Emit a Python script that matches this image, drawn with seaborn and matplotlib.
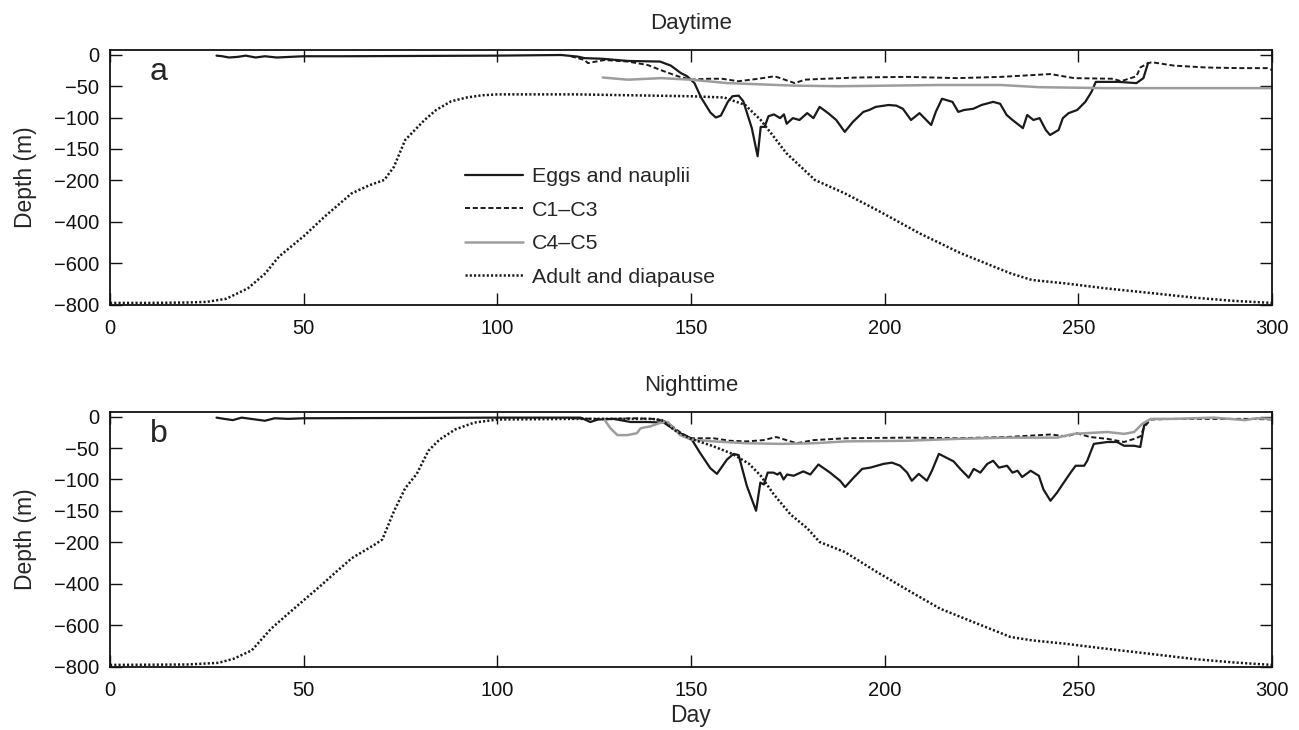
import numpy as np
import pandas as pd
import matplotlib
matplotlib.use("Agg")
import matplotlib.pyplot as plt
import seaborn as sns

# ---------------- data (day, depth in m) ----------------
# Panel a: Daytime
a_eggs_day = [27.5, 29, 30.7, 33, 35, 37.6, 40, 43, 46.5, 50, 60, 80, 100, 116.5, 120.8, 122.5, 127, 133.7, 142,
              144.8, 147.4, 149, 150.9, 152.6, 155, 156.4, 157.7, 159.5, 160.7, 162.3, 163.5, 165.7, 167.2, 168, 169,
              170, 171.4, 173, 174, 174.7, 176.3, 178, 180, 181.6, 183.2, 185.4, 187.5, 189.7, 191.8, 194.5, 196,
              197.7, 201, 203, 204.7, 206.8, 209, 212, 213.2, 214.8, 217.5, 219, 220.5, 222.9, 225, 228, 229.8, 231.5,
              233, 235.7, 236.8, 238.4, 240, 241.6, 242.7, 244.9, 246, 247.5, 249.7, 251.8, 253.4, 254.5, 260.4, 265,
              266.8, 268]
a_eggs_dep = [-1, -2, -4, -3, -1, -4, -2, -4, -3, -2, -2, -1.5, -1, 0, -2.6, -5, -6, -9.5, -10.5,
              -17, -29, -34, -45, -68, -92, -100, -97, -75, -66, -65, -74, -117, -162, -115, -115,
              -98, -95, -101, -95, -110, -101, -104, -93, -101, -83, -93, -104, -123, -107, -91, -88,
              -83, -80, -81, -86, -104, -93, -112, -91, -70, -75, -91, -88, -86, -80, -75, -78, -96,
              -104, -117, -96, -104, -101, -120, -128, -120, -101, -93, -88, -75, -59, -43, -43, -45,
              -37, -13]

a_c13_day = [119, 122.5, 123.4, 125, 127.7, 133.7, 138.8, 143, 146.6, 150, 154.3, 158, 162.2, 167.4, 171.6, 176.8,
             179.4, 184.5, 193, 205.8, 218.7, 230, 242.8, 248.9, 259, 261, 265, 266, 268, 269, 274.7, 283, 291.8,
             298.7, 300]
a_c13_dep = [-2, -8, -13, -11, -8, -10.5, -16, -26, -34, -39.5, -38, -38, -42, -38, -34, -45,
             -39.5, -38, -36, -35, -37, -35, -30.5, -37, -38, -42, -34, -20, -13, -11.6, -17, -20, -21,
             -21, -24]

a_c45_day = [127.2, 133.7, 142.3, 150, 159.5, 168, 176.6, 188, 214, 230, 240, 257, 300]
a_c45_dep = [-36, -39.5, -37, -39.5, -45, -47, -49, -50, -48, -48, -51.5, -53, -53]

a_adult_day = [0, 10, 20, 25, 30, 35.6, 40, 43.6, 50, 55.4, 62.4, 67, 70.8, 73.3, 76.2, 81.2, 84.2, 88.1, 92.1, 96,
               100, 120, 140, 150, 158.6, 164, 168, 171.4, 174.6, 182, 189.7, 198, 209, 219.7, 232.5, 238, 246.5,
               257, 270, 280, 290, 300]
a_adult_dep = [-790, -790, -788, -785, -770, -720, -650, -568, -470, -376, -264, -225, -200, -179, -136, -104, -88,
               -74, -68, -64.5, -63, -63, -65, -66, -68, -80, -104, -131, -157, -200, -264, -344, -456, -552, -648,
               -680, -696, -720, -745, -765, -780, -790]

# Panel b: Nighttime
b_eggs_day = [27.5, 29.5, 31.7, 34, 37.6, 40, 42.5, 46, 50, 80, 100, 121.5, 124, 126, 130, 134.4, 138.7, 143,
              144.7, 147.2, 150, 152.4, 155, 156.7, 159.3, 161, 162.3, 164.4, 166.8, 167.9, 168.8, 169.8, 171.3,
              172.3, 173, 173.9, 174.8, 176.5, 179, 180.8, 182.9, 185.9, 188.5, 189.8, 192, 194.2, 196.3, 199.7,
              201.9, 204, 205.8, 207, 208.8, 210.9, 212.2, 214, 217.8, 219.5, 221.7, 223, 224.7, 226.5, 228, 229.5,
              231.6, 233, 234.3, 235.5, 237.7, 239.8, 241, 242.8, 244.5, 245.9, 248, 249.3, 251.5, 252.3, 254,
              257.5, 260, 261.8, 264.4, 266, 267, 267.8]
b_eggs_dep = [-1, -3, -5, -1, -4, -6, -2, -3, -2, -1.5, -1, -1, -8, -4, -3, -8, -8, -9,
              -16, -26, -34, -58, -82, -91, -68, -59, -61, -110, -150, -105, -108, -89, -89,
              -92, -89, -100, -92, -94, -87, -92, -76, -89, -102, -112, -97, -83, -81, -75,
              -73, -78, -89, -102, -91, -102, -86, -59, -71, -83, -97, -83, -89, -75, -70, -81,
              -78, -89, -86, -96, -86, -94, -116, -134, -121, -108, -89, -78, -78, -70, -43,
              -40, -40, -46, -46, -48, -13, -8]

b_c13_day = [119, 125, 130, 135, 140, 143, 145, 147.5, 150, 155.8, 160, 164.4, 168.7, 172, 177.3, 181.6, 190,
             205.8, 218.7, 231.6, 242.8, 247, 249.6, 253, 257.5, 261.8, 264.4, 266, 267, 268.7, 275, 285, 295, 300]
b_c13_dep = [-2, -3, -3, -2, -3, -6, -14, -26, -34, -34, -38, -39, -37, -32, -42, -37, -34,
             -33, -34, -32, -28, -31, -26, -32, -35, -40, -35, -31, -16, -4, -3, -3, -3, -4]

b_c45_day = [127.5, 129.2, 131, 133.5, 136, 137, 139.5, 142, 144, 145.5, 147.2, 150, 155.8, 164.4, 173, 181.6, 190,
             205.8, 218.7, 231.6, 244.5, 248.8, 257.5, 261.8, 264.4, 266.5, 268.7, 275, 285, 293, 296, 300]
b_c45_dep = [-3, -18, -29, -29, -26, -18, -15, -9.5, -8, -18, -29, -36, -39, -42, -43, -42, -39,
             -38, -35, -33, -33, -27, -24, -27, -24, -11, -3, -3, -1, -5, -2, -3]

b_adult_day = [0, 20, 28, 32, 36.6, 41.6, 46.5, 50.5, 54.5, 58.4, 62.4, 68.3, 70.3, 73.3, 76.2, 79.2, 82.2, 85.1,
               89.1, 94, 100, 120, 140, 142.5, 145.7, 150, 155.4, 160.7, 165, 168, 171.4, 175.7, 180, 183.2, 189.7,
               198, 206.8, 214.3, 225, 232.5, 238, 246.5, 257, 270, 280, 290, 300]
b_adult_dep = [-790, -788, -780, -760, -720, -616, -536, -472, -408, -343, -278, -213, -196, -151, -114, -91, -54,
               -36, -20, -9, -4, -3, -3, -5, -21, -35, -46, -59, -75, -94, -124, -156, -178, -200, -248,
               -344, -440, -520, -600, -656, -672, -688, -712, -740, -762, -778, -790]

series_labels = ["Eggs and nauplii", "C1\u2013C3", "C4\u2013C5", "Adult and diapause"]
y_ticks = [0, -50, -100, -150, -200, -400, -600, -800]
x_ticks = [0, 50, 100, 150, 200, 250, 300]

# ---------------- style ----------------
sns.set_style("ticks")
plt.rcParams["font.family"] = ["Liberation Sans", "DejaVu Sans"]
plt.rcParams["axes.linewidth"] = 1.3


def fwd(y):
    y = np.asarray(y, dtype=float)
    return np.where(y >= -200, y, -200 + (y + 200) / 3.0)


def inv(t):
    t = np.asarray(t, dtype=float)
    return np.where(t >= -200, t, -200 + (t + 200) * 3.0)


fig = plt.figure(figsize=(12.99, 7.30), dpi=100)
W, H = 1299, 730
L, R = 110, 1272
axa = fig.add_axes([L / W, 1 - 305 / H, (R - L) / W, 255 / H])
axb = fig.add_axes([L / W, 1 - 667 / H, (R - L) / W, 255 / H])

styles = [
    dict(color="#1a1a1a", linestyle="-", linewidth=1.6),
    dict(color="#1a1a1a", linestyle=(0, (2.6, 1.4)), linewidth=1.4),
    dict(color="#9d9d9d", linestyle="-", linewidth=1.8),
    dict(color="#1a1a1a", linestyle=(0, (0.85, 0.85)), linewidth=1.8),
]

panels = [
    (axa, "Daytime", "a", [(a_eggs_day, a_eggs_dep), (a_c13_day, a_c13_dep), (a_c45_day, a_c45_dep),
                           (a_adult_day, a_adult_dep)]),
    (axb, "Nighttime", "b", [(b_eggs_day, b_eggs_dep), (b_c13_day, b_c13_dep), (b_c45_day, b_c45_dep),
                             (b_adult_day, b_adult_dep)]),
]

for ax, title, letter, data in panels:
    ax.set_yscale("function", functions=(fwd, inv))
    for (d, z), lab, st in zip(data, series_labels, styles):
        df = pd.DataFrame({"Day": d, "Depth": z})
        sns.lineplot(data=df, x="Day", y="Depth", ax=ax, estimator=None, sort=False, label=lab, **st)
    ax.set_xlim(0, 300)
    ax.set_ylim(-800, 8)
    ax.set_yticks(y_ticks)
    ax.set_yticklabels([str(v).replace("-", "\u2212") for v in y_ticks])
    ax.set_xticks(x_ticks)
    ax.set_xticklabels([str(v) for v in x_ticks])
    ax.tick_params(direction="in", length=8.5, width=1.0, top=True, right=True, labelsize=14.5,
                   colors="#111111")
    ax.tick_params(axis="y", pad=8)
    ax.tick_params(axis="x", pad=10)
    ax.set_ylabel("Depth (m)", fontsize=16.5, labelpad=12)
    ax.set_xlabel("")
    ax.set_title(title, fontsize=16, pad=15)
    ax.text(0.034, 0.915, letter, transform=ax.transAxes, fontsize=23, va="center", ha="left")
    for sp in ax.spines.values():
        sp.set_color("#111111")

axb.set_xlabel("Day", fontsize=16.5, labelpad=3)
axb.get_legend().remove()
leg = axa.legend(loc="upper left", bbox_to_anchor=(0.3055, 0.54), frameon=False, fontsize=15.4,
                 handlelength=2.7, handletextpad=0.45, labelspacing=0.68, borderpad=0, borderaxespad=0)

fig.savefig("out.png", dpi=100)
